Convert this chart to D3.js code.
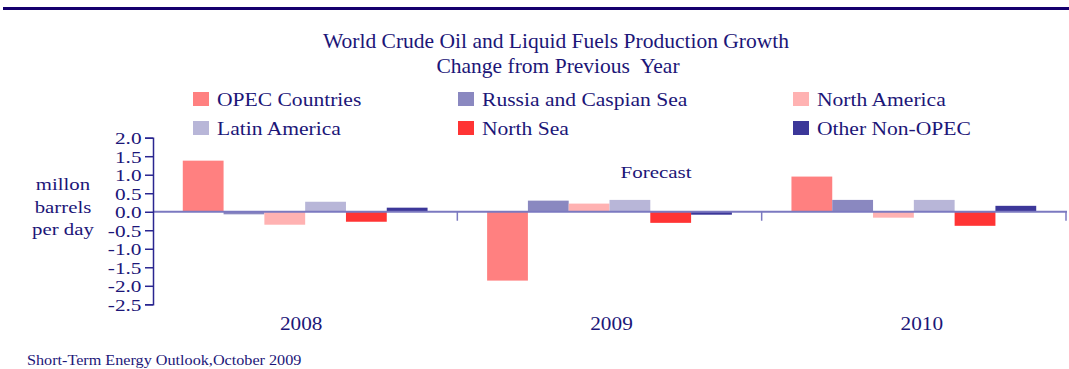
<!DOCTYPE html>
<html>
<head>
<meta charset="utf-8">
<script src="https://cdn.jsdelivr.net/npm/d3@7"></script>
<style>
  html, body { margin: 0; padding: 0; background: #fff; }
  svg { display: block; }
  text { font-family: "Liberation Serif", "DejaVu Serif", serif; fill: #1c1678; }
</style>
</head>
<body>
<svg id="chart" width="1069" height="369"></svg>
<script>
// Production growth by region, million barrels per day, change from previous year
const years = ["2008", "2009", "2010"];
const regions = ["OPEC Countries", "Russia and Caspian Sea", "North America",
                 "Latin America", "North Sea", "Other Non-OPEC"];
const opec      = [1.38, -1.86, 0.95];
const russia    = [-0.07, 0.30, 0.32];
const northAm   = [-0.35, 0.22, -0.16];
const latinAm   = [0.27, 0.32, 0.32];
const northSea  = [-0.27, -0.30, -0.38];
const otherNon  = [0.11, -0.08, 0.16];
const yTicks = [2.0, 1.5, 1.0, 0.5, 0.0, -0.5, -1.0, -1.5, -2.0, -2.5];

const seriesValues = [opec, russia, northAm, latinAm, northSea, otherNon];
const colors = ["#ff8080", "#8a88c0", "#ffb2b2", "#b8b6d8", "#ff3434", "#3c3799"];

const svg = d3.select("#chart");

// Text with a horizontal stretch (the typeface is set wide)
function wideText(parent, x, y, str, size, sx, anchor) {
  return parent.append("text")
    .attr("transform", `translate(${x},${y}) scale(${sx},1)`)
    .attr("font-size", size)
    .attr("text-anchor", anchor || "start")
    .text(str);
}

// Top rule
svg.append("rect").attr("x", 3).attr("y", 7).attr("width", 1066).attr("height", 3)
  .attr("fill", "#15006e");

// Title
wideText(svg, 556, 47.5, "World Crude Oil and Liquid Fuels Production Growth", 21, 1.025, "middle");
wideText(svg, 558, 72.5, "Change from Previous  Year", 21, 1.025, "middle")
  .attr("xml:space", "preserve");

// Scales
const x0 = d3.scaleBand().domain(years).range([153, 1066]).paddingInner(0).paddingOuter(0);
const x1 = d3.scaleBand().domain(regions).range([0, x0.bandwidth()])
  .paddingInner(0).paddingOuter(0.73);
const y = d3.scaleLinear().domain([-2.5, 2.0]).range([304.3, 137.7]);
// Category labels sit on a slightly wider spacing than the bar groups
const xLabel = d3.scaleBand().domain(years).range([146, 1077]);

// Legend: three columns, two rows
const legendCols = [193, 458, 793];
const legendRows = [92, 121];
const legend = svg.append("g");
regions.forEach((name, i) => {
  const cx = legendCols[i % 3], cy = legendRows[Math.floor(i / 3)];
  legend.append("rect").attr("x", cx).attr("y", cy).attr("width", 16).attr("height", 14)
    .attr("fill", colors[i]);
  wideText(legend, cx + 24, cy + 13.7, name, 18.6, 1.16);
});

// Bars
const rows = years.map((yr, i) => ({ year: yr, vals: seriesValues.map(s => s[i]) }));
const groups = svg.append("g").selectAll("g").data(rows).join("g")
  .attr("transform", d => `translate(${x0(d.year)},0)`);
groups.selectAll("rect").data(d => d.vals.map((v, j) => ({ region: regions[j], v, j })))
  .join("rect")
  .attr("x", d => x1(d.region))
  .attr("width", x1.bandwidth())
  .attr("y", d => y(Math.max(0, d.v)))
  .attr("height", d => Math.abs(y(d.v) - y(0)))
  .attr("fill", d => colors[d.j]);

// Zero line with group separators
svg.append("line").attr("x1", 153).attr("x2", 1067).attr("y1", y(0)).attr("y2", y(0))
  .attr("stroke", "#7b79c0").attr("stroke-width", 2);
x0.domain().forEach(yr => {
  const bx = x0(yr) + x0.bandwidth();
  svg.append("line").attr("x1", bx).attr("x2", bx).attr("y1", y(0)).attr("y2", y(0) + 9)
    .attr("stroke", "#7b79c0").attr("stroke-width", 1.5);
});

// Year labels
const yearG = svg.append("g");
years.forEach(yr => wideText(yearG, xLabel(yr) + xLabel.bandwidth() / 2, 330, yr, 19, 1.12, "middle"));

// Y axis
const yAxis = d3.axisLeft(y).tickValues(yTicks).tickFormat(d3.format(".1f"))
  .tickSizeOuter(0).tickSize(8);
const ya = svg.append("g").attr("transform", "translate(153,0)").call(yAxis);
ya.select(".domain").attr("stroke", "#2a2690").attr("stroke-width", 1.5);
ya.selectAll(".tick line").attr("stroke", "#2a2690").attr("stroke-width", 1.5);
ya.selectAll(".tick text")
  .attr("font-size", 17)
  .attr("x", 0).attr("dy", "0.35em")
  .attr("transform", "translate(-11.5,0) scale(1.25,1)")
  .text(d => d3.format(".1f")(d).replace("\u2212", "-"));

// Y axis title
const ylab = svg.append("g");
[["millon", 190], ["barrels", 213], ["per day", 234.5]].forEach(([t, yy]) =>
  wideText(ylab, 63, yy, t, 16, 1.3, "middle"));

// Forecast marker
wideText(svg, 656, 178, "Forecast", 17.6, 1.19, "middle");

// Source note
wideText(svg, 27, 365, "Short-Term Energy Outlook,October 2009", 13.6, 1.19);
</script>
</body>
</html>
